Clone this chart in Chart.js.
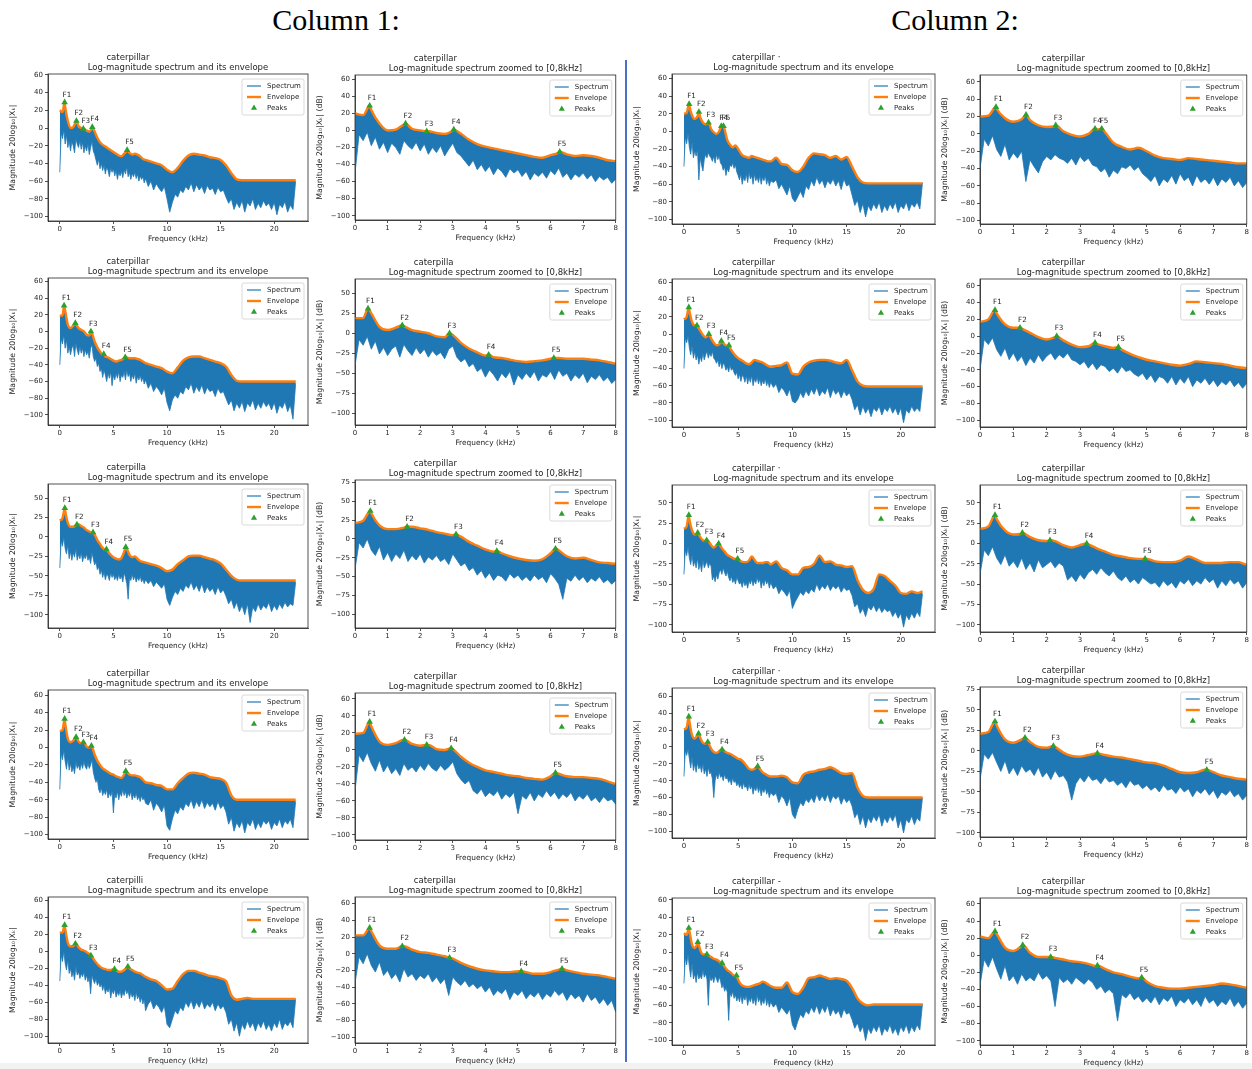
<!DOCTYPE html>
<html>
<head>
<meta charset="utf-8">
<script src="https://cdn.jsdelivr.net/npm/chart.js@4.4.1/dist/chart.umd.min.js"></script>
<style>
  body { margin: 0; background: #fff; width: 1252px; height: 1069px; position: relative; overflow: hidden; }
  .head { position: absolute; top: 3px; font-family: "Liberation Serif", serif; font-size: 30px; color: #000; transform: translateX(-50%); white-space: nowrap; }
  #sep { position: absolute; left: 625px; top: 60px; width: 2px; height: 1002px; background: #4a6fc4; }
  #foot { position: absolute; left: 0; top: 1063px; width: 1252px; height: 6px; background: #f2f2f2; }
  canvas { position: absolute; }
</style>
</head>
<body>
<div class="head" style="left:336px">Column 1:</div>
<div class="head" style="left:955px">Column 2:</div>
<div id="sep"></div>
<div id="foot"></div>
<script>
// ---- frequency grids (kHz) ----
const envFreq = [0,0.25,0.5,0.75,1,1.25,1.5,1.75,2,2.25,2.5,2.75,3,3.25,3.5,3.75,4,4.25,4.5,4.75,5,5.25,5.5,5.75,6,6.25,6.5,6.75,7,7.25,7.5,7.75,8,
  8.5,9,9.5,10,10.5,11,11.5,12,12.5,13,13.5,14,14.5,15,15.5,16,16.5,17,17.5,18,18.5,19,19.5,20,20.5,21,21.5,22];
const lowFreq = [0,0.125,0.25,0.375,0.5,0.625,0.75,0.875,1,1.125,1.25,1.375,1.5,1.625,1.75,1.875,2,2.125,2.25,2.375,2.5,2.625,2.75,2.875,
  3,3.125,3.25,3.375,3.5,3.625,3.75,3.875,4,4.125,4.25,4.375,4.5,4.625,4.75,4.875,5,5.125,5.25,5.375,5.5,5.625,5.75,5.875,
  6,6.125,6.25,6.375,6.5,6.625,6.75,6.875,7,7.125,7.25,7.375,7.5,7.625,7.75,7.875,8,
  8.25,8.5,8.75,9,9.25,9.5,9.75,10,10.25,10.5,10.75,11,11.25,11.5,11.75,12,12.25,12.5,12.75,13,13.25,13.5,13.75,14,
  14.25,14.5,14.75,15,15.25,15.5,15.75,16,16.25,16.5,16.75,17,17.25,17.5,17.75,18,18.25,18.5,18.75,19,19.25,19.5,19.75,
  20,20.25,20.5,20.75,21,21.25,21.5,21.75,22];
const peakNames = ['F1', 'F2', 'F3', 'F4', 'F5'];
const xTicksFull = [0, 5, 10, 15, 20];
const xTicksZoom = [0, 1, 2, 3, 4, 5, 6, 7, 8];

// ---- recording 1 (column 1, row 1) ----
const env1 = [20,18,24,8,0,1,7,2,0,-1,-3,
  -4,0,-4,-11,-16,-19,-21,-23,-25,-27,-29,
  -31,-32,-29,-26,-28,-30,-29,-30,-32,-35,-36,
  -38,-40,-42,-47,-50,-45,-37,-31,-29,-30,-31,-33,-34,-36,
  -42,-51,-58,-59,-59,-59,-59,-59,-59,-59,-59,-59,-59,-59];
const low1 = [-50,-5,-12,-2,-18,-8,-22,-14,-26,-15,-20,-28,-12,
  -18,-22,-14,-24,-16,-28,-20,-26,-18,-30,-22,-15,-26,
  -30,-36,-42,-35,-46,-40,-48,-42,-52,-44,-48,-55,-45,
  -50,-46,-54,-48,-58,-50,-54,-49,-56,-47,-52,-44,-55,
  -50,-58,-51,-55,-50,-57,-52,-60,-54,-58,-55,-62,-57,
  -66,-60,-70,-63,-68,-72,-66,-80,-95,-84,-75,-78,-70,-73,
  -66,-70,-62,-72,-64,-70,-66,-74,-65,-70,-68,-75,-67,-72,
  -70,-78,-85,-80,-92,-84,-90,-82,-95,-84,-88,-80,-92,-85,
  -90,-82,-88,-85,-92,-84,-98,-86,-90,-83,-95,-87,-92,-60];
const pkF1 = [0.45, 1.55, 2.2, 3.03, 6.28];
const pkV1 = [29, 8, -1, 1, -25];

// ---- recording 2 (column 1, row 2) ----
const env2 = [19,19,25,8,4,7,9,4,2,0,-4,
  -5,-2,-12,-19,-24,-28,-30,-31,-33,-35,-36,
  -35,-34,-32,-31,-32,-32,-32,-33,-34,-36,-38,
  -40,-42,-44,-48,-50,-43,-35,-31,-30,-30,-32,-34,-36,-38,
  -42,-52,-59,-60,-60,-60,-60,-60,-60,-60,-60,-60,-60,-60];
const low2 = [-40,-8,-15,-4,-20,-10,-26,-18,-28,-20,-16,-30,-14,
  -22,-28,-18,-26,-20,-30,-22,-28,-24,-32,-20,-16,-30,
  -36,-32,-42,-38,-48,-44,-55,-46,-52,-60,-50,-56,-48,
  -65,-52,-58,-50,-56,-48,-60,-52,-55,-48,-58,-46,-54,
  -50,-60,-52,-57,-50,-62,-54,-58,-52,-60,-55,-63,-58,
  -68,-62,-72,-66,-70,-76,-68,-85,-95,-82,-76,-80,-72,-75,
  -66,-70,-62,-74,-66,-72,-64,-75,-67,-72,-70,-78,-68,-74,
  -72,-80,-88,-82,-95,-86,-92,-84,-96,-86,-90,-82,-94,-86,
  -92,-84,-90,-86,-94,-85,-98,-88,-92,-84,-96,-88,-105,-62];
const pkF2 = [0.4, 1.45, 2.9, 4.1, 6.1];
const pkV2 = [31, 10, 0, -27, -31];

// ---- recording 3 (column 1, row 3) ----
const env3 = [21,24,34,18,13,13,15,16,14,12,9,
  7,5,3,-4,-9,-14,-17,-19,-23,-26,-28,
  -29,-27,-19,-15,-23,-26,-25,-28,-31,-32,-33,
  -35,-37,-40,-44,-42,-35,-30,-25,-24,-24,-26,-28,-30,-34,
  -42,-50,-55,-56,-56,-56,-56,-56,-56,-56,-56,-56,-56,-56];
const low3 = [-40,-5,-12,0,-15,-22,-10,-28,-18,-30,-20,-26,-15,
  -30,-22,-28,-20,-32,-24,-28,-22,-30,-26,-34,-20,-28,
  -36,-32,-42,-38,-48,-42,-52,-45,-55,-48,-50,-56,-46,
  -52,-48,-55,-50,-56,-48,-54,-50,-58,-46,-52,-60,-80,
  -52,-56,-48,-55,-50,-58,-52,-56,-50,-58,-54,-60,-55,
  -60,-56,-64,-58,-62,-66,-60,-80,-88,-78,-70,-74,-66,-70,
  -62,-66,-58,-68,-62,-70,-60,-72,-64,-70,-66,-74,-64,-72,
  -68,-76,-86,-80,-92,-84,-96,-88,-100,-86,-110,-90,-96,-86,
  -94,-88,-92,-84,-96,-88,-94,-86,-92,-84,-90,-86,-88,-58];
const pkF3 = [0.47, 1.6, 3.1, 4.35, 6.15];
const pkV3 = [37, 16, 6, -16, -13];

// ---- recording 4 (column 1, row 4) ----
const env4 = [19,20,28,10,6,8,12,7,5,6,1,
  0,1,-8,-15,-20,-24,-26,-28,-30,-31,-33,
  -34,-35,-31,-28,-31,-32,-32,-33,-34,-37,-40,
  -41,-43,-44,-48,-48,-41,-35,-30,-29,-30,-31,-34,-35,-36,
  -40,-55,-60,-60,-60,-60,-60,-60,-60,-60,-60,-60,-60,-60];
const low4 = [-48,-6,-14,-3,-16,-25,-12,-26,-18,-28,-22,-30,-16,
  -24,-20,-26,-18,-24,-16,-22,-25,-18,-24,-20,-14,-28,
  -35,-40,-36,-48,-52,-46,-55,-50,-54,-48,-58,-52,-56,
  -50,-75,-54,-58,-50,-60,-52,-56,-48,-55,-50,-58,-52,
  -56,-50,-60,-54,-58,-52,-60,-56,-62,-55,-60,-58,-64,
  -66,-60,-72,-64,-68,-74,-66,-90,-95,-82,-72,-76,-68,-72,
  -64,-68,-60,-70,-62,-68,-60,-70,-63,-68,-64,-72,-62,-70,
  -66,-74,-88,-80,-96,-86,-92,-84,-98,-86,-90,-82,-94,-86,
  -92,-84,-88,-84,-94,-86,-90,-82,-92,-84,-88,-82,-92,-62];
const pkF4 = [0.45, 1.52, 2.2, 2.95, 6.15];
const pkV4 = [33, 12, 6, 2, -27];

// ---- recording 5 (column 1, row 5) ----
const env5 = [22,22,27,10,6,6,9,5,2,1,-1,
  -3,-6,-11,-15,-18,-20,-21,-22,-22,-21,-22,
  -24,-24,-22,-19,-20,-22,-24,-25,-26,-28,-30,
  -33,-35,-40,-45,-44,-35,-27,-23,-23,-25,-27,-29,-30,-32,
  -35,-52,-57,-56,-55,-56,-56,-56,-56,-56,-56,-56,-56,-56];
const low5 = [-35,-4,-12,0,-14,-22,-10,-26,-20,-30,-24,-34,-18,
  -28,-24,-32,-26,-30,-24,-34,-28,-36,-30,-50,-28,-34,
  -38,-32,-40,-36,-42,-38,-46,-40,-50,-44,-48,-42,-55,
  -46,-50,-44,-54,-48,-52,-46,-55,-48,-52,-44,-50,-46,
  -56,-48,-54,-50,-58,-48,-56,-52,-60,-54,-62,-56,-70,
  -62,-58,-68,-62,-66,-72,-64,-86,-90,-80,-70,-74,-66,-70,
  -60,-66,-58,-68,-60,-66,-58,-68,-62,-66,-60,-70,-62,-68,
  -64,-72,-86,-80,-94,-84,-100,-86,-92,-82,-90,-84,-94,-84,
  -90,-82,-92,-86,-94,-84,-90,-80,-92,-84,-88,-82,-90,-56];
const pkF5 = [0.45, 1.45, 2.9, 5.1, 6.35];
const pkV5 = [31, 9, -5, -21, -18];

// ---- recording 6 (column 2, row 1) ----
const env6 = [20,21,29,18,14,17,16,10,8,9,3,
  -1,-3,0,5,2,-10,-15,-18,-16,-20,-25,
  -28,-29,-30,-28,-29,-30,-31,-32,-33,-34,-34,
  -30,-37,-38,-44,-46,-40,-30,-25,-26,-27,-30,-28,-32,-29,
  -40,-52,-58,-59,-59,-59,-59,-59,-59,-59,-59,-59,-59,-59];
const low6 = [-40,-6,-14,-2,-18,-26,-12,-30,-22,-28,-20,-55,-30,
  -38,-45,-32,-26,-30,-24,-28,-30,-34,-28,-36,-26,-32,
  -28,-36,-38,-44,-40,-50,-42,-46,-38,-40,-36,-42,-38,
  -46,-50,-55,-48,-60,-52,-56,-48,-58,-46,-54,-50,-60,
  -48,-56,-52,-58,-50,-60,-52,-56,-50,-60,-54,-62,-56,
  -58,-55,-65,-60,-66,-72,-62,-76,-80,-74,-68,-75,-62,-66,
  -56,-62,-52,-60,-55,-64,-56,-60,-54,-62,-56,-66,-54,-62,
  -60,-72,-84,-78,-92,-82,-97,-84,-90,-82,-88,-80,-92,-84,
  -90,-82,-88,-80,-92,-84,-88,-80,-90,-82,-86,-80,-88,-58];
const pkF6 = [0.48, 1.38, 2.27, 3.45, 3.65];
const pkV6 = [31, 22, 10, 6, 6];

// ---- recording 7 (column 2, row 2) ----
const env7 = [17,20,27,14,10,9,4,-1,-4,-1,-5,
  -10,-13,-12,-9,-12,-14,-16,-21,-25,-28,-30,
  -32,-34,-35,-33,-30,-31,-32,-33,-35,-37,-38,
  -37,-36,-33,-46,-47,-38,-33,-31,-30,-30,-31,-33,-34,-30,
  -42,-55,-60,-61,-61,-61,-61,-61,-61,-61,-61,-61,-61,-61];
const low7 = [-40,-4,-10,-2,-16,-24,-14,-28,-20,-30,-24,-35,-26,
  -32,-22,-30,-24,-20,-28,-22,-26,-20,-28,-30,-34,-30,
  -38,-32,-40,-34,-36,-42,-38,-44,-36,-42,-40,-45,-48,
  -44,-52,-46,-55,-48,-50,-56,-48,-58,-50,-56,-48,-60,
  -52,-56,-50,-58,-52,-60,-54,-58,-52,-60,-55,-62,-56,
  -62,-58,-68,-62,-66,-72,-64,-78,-80,-76,-68,-74,-66,-72,
  -64,-70,-62,-72,-66,-70,-62,-74,-64,-70,-66,-74,-66,-72,
  -68,-76,-88,-82,-94,-84,-92,-86,-96,-86,-90,-84,-94,-86,
  -90,-84,-92,-86,-94,-86,-103,-88,-92,-84,-90,-86,-90,-62];
const pkF7 = [0.45, 1.2, 2.3, 3.45, 4.15];
const pkV7 = [31, 10, 0, -8, -13];

// ---- recording 8 (column 2, row 3) ----
const env8 = [18,21,30,16,11,12,8,4,3,3,-2,
  -5,-2,-1,-6,-10,-14,-16,-18,-19,-19,-22,
  -23,-23,-21,-16,-20,-24,-24,-24,-23,-23,-26,
  -22,-30,-33,-38,-38,-30,-29,-25,-15,-23,-22,-26,-27,-29,
  -28,-45,-57,-61,-56,-38,-40,-46,-52,-61,-62,-59,-61,-59];
const low8 = [-38,-8,-15,-4,-18,-26,-14,-28,-22,-30,-18,-32,-24,
  -35,-20,-30,-26,-22,-30,-24,-28,-45,-40,-47,-38,-44,
  -36,-32,-38,-30,-36,-40,-34,-42,-46,-40,-48,-44,-50,
  -42,-46,-50,-48,-54,-46,-52,-48,-55,-46,-50,-44,-52,
  -46,-50,-42,-48,-44,-55,-46,-52,-44,-50,-46,-55,-48,
  -56,-52,-62,-56,-60,-65,-58,-80,-72,-66,-60,-64,-58,-62,
  -56,-60,-50,-58,-52,-56,-50,-58,-52,-56,-52,-60,-54,-58,
  -56,-64,-78,-74,-86,-80,-90,-78,-82,-76,-84,-78,-85,-80,
  -84,-82,-90,-84,-92,-86,-103,-88,-94,-86,-92,-84,-90,-62];
const pkF8 = [0.45, 1.27, 2.1, 3.2, 4.95];
const pkV8 = [35, 13, 4, 0, -19];

// ---- recording 9 (column 2, row 4) ----
const env9 = [21,23,31,14,10,14,11,5,4,5,-2,
  -6,-7,-5,-3,-5,-7,-8,-10,-12,-14,-15,
  -18,-22,-26,-27,-26,-23,-26,-30,-32,-34,-35,
  -35,-34,-36,-42,-43,-33,-30,-29,-27,-26,-24,-27,-31,-32,
  -31,-48,-58,-60,-60,-60,-60,-60,-60,-60,-60,-60,-60,-60];
const low9 = [-35,-4,-10,-2,-14,-25,-12,-28,-20,-30,-18,-26,-22,
  -30,-20,-32,-26,-35,-24,-32,-30,-38,-60,-40,-32,-38,
  -30,-36,-34,-40,-32,-38,-36,-42,-38,-45,-36,-42,-40,
  -46,-42,-48,-44,-50,-42,-48,-46,-52,-44,-50,-46,-56,
  -48,-52,-46,-54,-48,-58,-50,-54,-48,-56,-52,-60,-54,
  -58,-55,-66,-58,-62,-70,-60,-80,-85,-74,-66,-70,-62,-66,
  -60,-66,-56,-64,-58,-64,-56,-66,-58,-62,-58,-68,-60,-66,
  -62,-70,-84,-78,-92,-82,-96,-84,-90,-82,-88,-80,-94,-84,
  -90,-82,-88,-80,-96,-86,-102,-86,-90,-82,-92,-84,-88,-60];
const pkF9 = [0.45, 1.35, 2.2, 3.52, 6.8];
const pkV9 = [36, 16, 6, -3, -23];

// ---- recording 10 (column 2, row 5) ----
const env10 = [22,20,25,9,5,11,3,-2,-2,-3,-5,
  -7,-8,-10,-13,-16,-20,-22,-25,-27,-31,-36,
  -38,-39,-39,-38,-37,-36,-35,-33,-34,-36,-38,
  -40,-40,-34,-45,-47,-40,-29,-28,-26,-28,-30,-29,-30,-32,
  -40,-52,-58,-60,-59,-59,-59,-59,-59,-59,-59,-59,-59,-59];
const low10 = [-35,-5,-14,-2,-16,-28,-12,-30,-24,-34,-22,-30,-26,
  -30,-20,-28,-24,-30,-60,-26,-32,-28,-34,-26,-30,-34,
  -28,-32,-40,-36,-44,-40,-45,-77,-46,-50,-44,-52,-48,
  -55,-50,-56,-48,-58,-50,-54,-48,-60,-52,-56,-50,-58,
  -52,-60,-48,-56,-52,-60,-54,-58,-50,-60,-54,-62,-56,
  -62,-58,-68,-62,-66,-70,-64,-82,-88,-78,-70,-74,-66,-70,
  -62,-68,-60,-70,-62,-68,-60,-72,-64,-70,-66,-74,-64,-70,
  -68,-76,-86,-80,-90,-84,-100,-86,-92,-84,-90,-82,-94,-86,
  -90,-82,-92,-86,-94,-84,-90,-82,-92,-84,-90,-82,-88,-58];
const pkF10 = [0.45, 1.28, 2.12, 3.52, 4.85];
const pkV10 = [28, 12, -2, -12, -26];

const recordings = [
  { env: env1, low: low1, pkF: pkF1, pkV: pkV1 },
  { env: env2, low: low2, pkF: pkF2, pkV: pkV2 },
  { env: env3, low: low3, pkF: pkF3, pkV: pkV3 },
  { env: env4, low: low4, pkF: pkF4, pkV: pkV4 },
  { env: env5, low: low5, pkF: pkF5, pkV: pkV5 },
  { env: env6, low: low6, pkF: pkF6, pkV: pkV6 },
  { env: env7, low: low7, pkF: pkF7, pkV: pkV7 },
  { env: env8, low: low8, pkF: pkF8, pkV: pkV8 },
  { env: env9, low: low9, pkF: pkF9, pkV: pkV9 },
  { env: env10, low: low10, pkF: pkF10, pkV: pkV10 }
];

const TITLE_FULL = 'Log-magnitude spectrum and its envelope';
const TITLE_ZOOM = 'Log-magnitude spectrum zoomed to [0,8kHz]';

// panel layout: plot frame [left, top, right, bottom] in page px, y limits and tick step
const panels = [
  { rec: 0, zoom: false, box: [48, 74, 308, 221], y: [-105, 61, 20], name: 'caterpillar' },
  { rec: 0, zoom: true,  box: [355, 75, 616, 220], y: [-105, 65, 20], name: 'caterpillar' },
  { rec: 5, zoom: false, box: [672, 74, 935, 224], y: [-105, 65, 20], name: 'caterpillar \u00b7' },
  { rec: 5, zoom: true,  box: [980, 75, 1247, 224], y: [-104, 68, 20], name: 'caterpillar' },

  { rec: 1, zoom: false, box: [48, 278, 308, 425], y: [-112, 64, 20], name: 'caterpillar' },
  { rec: 1, zoom: true,  box: [355, 279, 616, 425], y: [-115, 68, 25], name: 'caterpilla' },
  { rec: 6, zoom: false, box: [672, 279, 935, 427], y: [-108, 64, 20], name: 'caterpillar' },
  { rec: 6, zoom: true,  box: [980, 279, 1247, 427], y: [-108, 68, 20], name: 'caterpillar' },

  { rec: 2, zoom: false, box: [48, 484, 308, 628], y: [-117, 68, 25], name: 'caterpilla' },
  { rec: 2, zoom: true,  box: [355, 480, 616, 628], y: [-118, 78, 25], name: 'caterpillar' },
  { rec: 7, zoom: false, box: [672, 485, 935, 632], y: [-109, 72, 25], name: 'caterpillar \u00b7' },
  { rec: 7, zoom: true,  box: [980, 485, 1247, 632], y: [-109, 72, 25], name: 'caterpillar' },

  { rec: 3, zoom: false, box: [48, 690, 308, 839], y: [-105, 66, 20], name: 'caterpillar' },
  { rec: 3, zoom: true,  box: [355, 693, 616, 840], y: [-106, 67, 20], name: 'caterpillar' },
  { rec: 8, zoom: false, box: [672, 688, 935, 838], y: [-108, 70, 20], name: 'caterpillar \u00b7' },
  { rec: 8, zoom: true,  box: [980, 687, 1247, 837], y: [-105, 78, 25], name: 'caterpillar' },

  { rec: 4, zoom: false, box: [48, 897, 308, 1043], y: [-108, 64, 20], name: 'caterpilli' },
  { rec: 4, zoom: true,  box: [355, 897, 616, 1043], y: [-107, 68, 20], name: 'caterpilla\u0131' },
  { rec: 9, zoom: false, box: [672, 898, 935, 1045], y: [-105, 62, 20], name: 'caterpillar -' },
  { rec: 9, zoom: true,  box: [980, 898, 1247, 1045], y: [-105, 67, 20], name: 'caterpillar' }
];

const FONT = '"DejaVu Sans", sans-serif';
const INK = '#262626';
const BLUE = '#1f77b4', ORANGE = '#ff7f0e', GREEN = '#2ca02c';
const PAD_L = 40, PAD_T = 26, PAD_B = 24, PAD_R = 3;

function minusSign(v) {
  return v < 0 ? '\u2212' + Math.abs(v) : String(v);
}

function triangle(ctx, x, y, r) {
  ctx.beginPath();
  ctx.moveTo(x, y - r);
  ctx.lineTo(x + r * 0.87, y + r * 0.5);
  ctx.lineTo(x - r * 0.87, y + r * 0.5);
  ctx.closePath();
  ctx.fill();
}

function makeDecor(p, rec) {
  return {
    id: 'decor',
    afterDraw(chart) {
      const ctx = chart.ctx, ca = chart.chartArea;
      const xs = chart.scales.x, ys = chart.scales.y;
      ctx.save();

      // frame on all four sides
      ctx.strokeStyle = INK;
      ctx.lineWidth = 0.8;
      ctx.strokeRect(ca.left, ca.top, ca.right - ca.left, ca.bottom - ca.top);

      // two-line title
      const cx = (ca.left + ca.right) / 2;
      ctx.fillStyle = INK;
      ctx.font = '8.5px ' + FONT;
      ctx.textBaseline = 'alphabetic';
      ctx.textAlign = 'left';
      const w1 = ctx.measureText('caterpillar').width;
      ctx.fillText(p.name, cx - 50 - w1 / 2, ca.top - 14);
      ctx.textAlign = 'center';
      ctx.fillText(p.zoom ? TITLE_ZOOM : TITLE_FULL, cx, ca.top - 4);

      // formant labels
      ctx.font = '7.2px ' + FONT;
      ctx.textAlign = 'left';
      ctx.textBaseline = 'bottom';
      rec.pkF.forEach((f, i) => {
        ctx.fillText(peakNames[i], xs.getPixelForValue(f) - 2, ys.getPixelForValue(rec.pkV[i]) - 4);
      });

      // legend box, upper right
      const bw = 62, bh = 36;
      const bx = ca.right - bw - 4, by = ca.top + 5;
      ctx.fillStyle = 'rgba(255,255,255,0.85)';
      ctx.strokeStyle = '#d0d0d0';
      ctx.lineWidth = 0.8;
      ctx.beginPath();
      ctx.roundRect(bx, by, bw, bh, 2);
      ctx.fill();
      ctx.stroke();
      const rows = ['Spectrum', 'Envelope', 'Peaks'];
      ctx.font = '7px ' + FONT;
      ctx.textBaseline = 'middle';
      rows.forEach((label, i) => {
        const ry = by + 7 + i * 11;
        if (i < 2) {
          ctx.strokeStyle = i === 0 ? BLUE : ORANGE;
          ctx.lineWidth = i === 0 ? 1.2 : 2.4;
          ctx.beginPath();
          ctx.moveTo(bx + 5, ry);
          ctx.lineTo(bx + 19, ry);
          ctx.stroke();
        } else {
          ctx.fillStyle = GREEN;
          triangle(ctx, bx + 12, ry, 3.5);
        }
        ctx.fillStyle = INK;
        ctx.fillText(label, bx + 25, ry);
      });
      ctx.restore();
    }
  };
}

panels.forEach(p => {
  const rec = recordings[p.rec];
  const [l, t, r, b] = p.box;
  const [yMin, yMax, yStep] = p.y;

  const cv = document.createElement('canvas');
  cv.width = r - l + PAD_L + PAD_R;
  cv.height = b - t + PAD_T + PAD_B;
  cv.style.left = (l - PAD_L) + 'px';
  cv.style.top = (t - PAD_T) + 'px';
  cv.style.width = cv.width + 'px';
  cv.style.height = cv.height + 'px';
  document.body.appendChild(cv);

  const n = Math.min(lowFreq.length, rec.low.length);
  const spectrum = [];
  for (let i = 0; i < n; i++) spectrum.push({ x: lowFreq[i], y: rec.low[i] });

  const envelope = [];
  const m = Math.min(envFreq.length, rec.env.length);
  for (let i = 0; i < m; i++) envelope.push({ x: envFreq[i], y: rec.env[i] });
  rec.pkF.forEach((f, i) => envelope.push({ x: f, y: rec.pkV[i] }));
  envelope.sort((a, c) => a.x - c.x);

  const peaks = rec.pkF.map((f, i) => ({ x: f, y: rec.pkV[i] }));

  const xTicks = p.zoom ? xTicksZoom : xTicksFull;

  new Chart(cv, {
    type: 'line',
    data: {
      datasets: [
        {
          label: 'Spectrum', data: spectrum, order: 3,
          borderColor: BLUE, borderWidth: 0.8, backgroundColor: BLUE,
          pointRadius: 0, fill: '+1', tension: 0
        },
        {
          label: 'Envelope', data: envelope, order: 2,
          borderColor: ORANGE, borderWidth: 2.4, pointRadius: 0,
          fill: false, cubicInterpolationMode: 'monotone'
        },
        {
          label: 'Peaks', data: peaks, order: 1, showLine: false,
          pointStyle: 'triangle', pointRadius: 3.8,
          backgroundColor: GREEN, borderColor: GREEN, borderWidth: 0
        }
      ]
    },
    options: {
      responsive: false,
      animation: false,
      devicePixelRatio: 1,
      events: [],
      layout: { padding: { top: PAD_T, right: PAD_R, bottom: 0, left: 0 }, autoPadding: false },
      plugins: {
        legend: { display: false },
        tooltip: { enabled: false },
        title: { display: false }
      },
      scales: {
        x: {
          type: 'linear',
          min: p.zoom ? 0 : -1.1,
          max: p.zoom ? 8 : 23.15,
          afterBuildTicks: ax => { ax.ticks = xTicks.map(v => ({ value: v })); },
          afterFit: ax => { ax.height = PAD_B; },
          grid: { drawOnChartArea: false, tickLength: 3, color: INK, lineWidth: 0.8 },
          border: { color: INK, width: 0.8 },
          ticks: { font: { family: FONT, size: 7 }, color: INK, padding: 1, maxRotation: 0, autoSkip: false,
                   callback: v => minusSign(v) },
          title: { display: true, text: 'Frequency (kHz)', color: INK, font: { family: FONT, size: 7.4 },
                   padding: { top: 0, bottom: 1 } }
        },
        y: {
          type: 'linear',
          min: yMin,
          max: yMax,
          afterBuildTicks: ax => {
            const out = [];
            for (let v = Math.ceil(yMin / yStep) * yStep; v <= yMax; v += yStep) out.push({ value: v });
            ax.ticks = out;
          },
          afterFit: ax => { ax.width = PAD_L; },
          grid: { drawOnChartArea: false, tickLength: 3, color: INK, lineWidth: 0.8 },
          border: { color: INK, width: 0.8 },
          ticks: { font: { family: FONT, size: 7 }, color: INK, padding: 2, autoSkip: false,
                   callback: v => minusSign(v) },
          title: { display: true, text: 'Magnitude 20log\u2081\u2080|X\u2096|' + (p.zoom ? ' (dB)' : ''),
                   color: INK, font: { family: FONT, size: 7.8 }, padding: { top: 0, bottom: 0 } }
        }
      }
    },
    plugins: [makeDecor(p, rec)]
  });
});
</script>
</body>
</html>
